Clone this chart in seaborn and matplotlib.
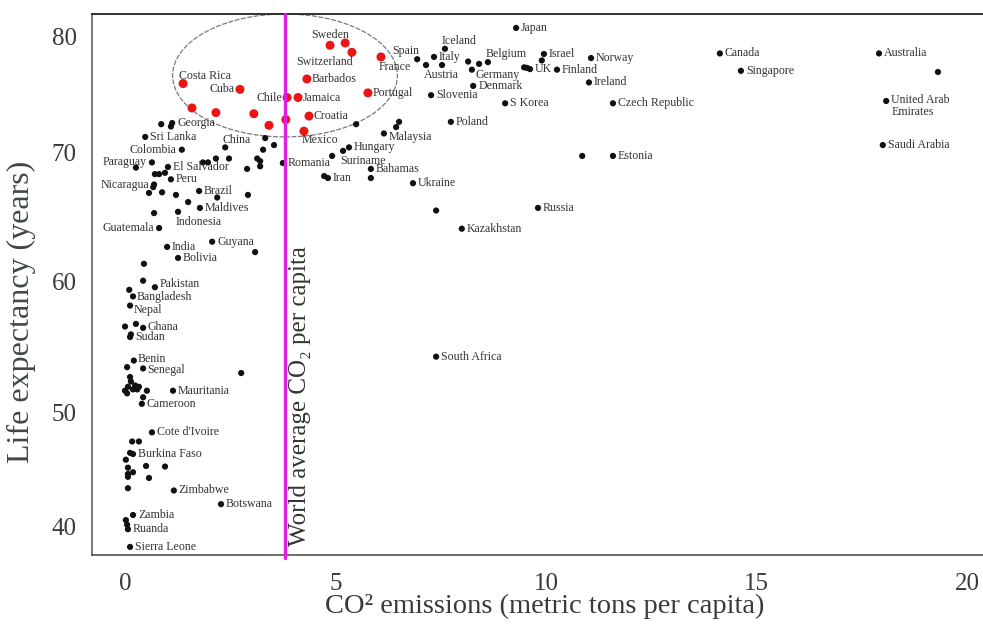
import numpy as np
import pandas as pd
import matplotlib
matplotlib.use("Agg")
import matplotlib.pyplot as plt
from matplotlib.patches import Ellipse
import seaborn as sns

# ---------------- data ----------------
red_countries = ["Costa Rica", "Cuba", "", "", "", "", "", "Chile", "Jamaica", "Barbados",
                 "Croatia", "Mexico", "Sweden", "", "Switzerland", "France", "Portugal"]
red_co2 = [1.38, 2.73, 1.59, 2.16, 3.06, 3.42, 3.82, 3.85, 4.11, 4.32,
           4.37, 4.25, 4.87, 5.23, 5.39, 6.08, 5.77]
red_life = [75.9, 75.4, 73.8, 73.4, 73.3, 72.3, 72.8, 74.7, 74.7, 76.3,
            73.1, 71.8, 79.2, 79.4, 78.6, 78.2, 75.1]

black_countries = [
    "Georgia", "", "", "Sri Lanka", "Colombia", "China", "", "", "", "Paraguay",
    "", "", "", "", "", "", "", "", "El Salvador", "",
    "", "", "", "Peru", "Nicaragua", "", "", "", "", "Brazil",
    "", "", "", "Maldives", "", "Indonesia", "Romania", "Guatemala", "India", "Guyana",
    "", "Bolivia", "", "", "Pakistan", "", "Bangladesh", "Nepal", "", "",
    "Ghana", "Sudan", "", "Benin", "", "Senegal", "", "", "", "",
    "", "", "", "", "", "", "", "Mauritania", "", "Cameroon",
    "Cote d'Ivoire", "", "", "Burkina Faso", "", "", "", "", "", "",
    "", "", "", "", "Zimbabwe", "Botswana", "Zambia", "", "", "Ruanda",
    "Sierra Leone", "Spain", "Italy", "Iceland", "Austria", "", "", "", "Belgium", "Germany",
    "Denmark", "", "", "UK", "Israel", "", "Finland", "Norway", "Ireland", "Japan",
    "Slovenia", "S Korea", "Czech Republic", "Poland", "", "", "", "Malaysia", "Hungary", "",
    "Suriname", "Bahamas", "", "", "Iran", "Ukraine", "", "Russia", "", "Estonia",
    "Kazakhstan", "South Africa", "Canada", "Singapore", "Australia", "", "United Arab\nEmirates", "Saudi Arabia",
]
black_co2 = [
    1.12, 0.86, 1.09, 0.48, 1.35, 2.38, 3.33, 3.54, 3.28, 0.64,
    1.85, 1.97, 2.16, 2.47, 3.14, 3.21, 3.21, 2.90, 1.02, 0.26,
    0.71, 0.81, 0.95, 1.09, 0.69, 0.67, 0.57, 0.88, 1.21, 1.76,
    2.19, 2.92, 1.50, 1.78, 0.69, 1.26, 3.75, 0.81, 1.00, 2.07,
    3.09, 1.26, 0.45, 0.43, 0.71, 0.10, 0.19, 0.12, 0.00, 0.26,
    0.43, 0.14, 0.12, 0.21, 0.05, 0.43, 2.76, 0.12, 0.14, 0.07,
    0.24, 0.33, 0.00, 0.05, 0.19, 0.29, 0.52, 1.14, 0.43, 0.40,
    0.64, 0.17, 0.33, 0.19, 0.12, 0.02, 0.07, 0.19, 0.07, 0.07,
    0.50, 0.95, 0.57, 0.07, 1.16, 2.28, 0.19, 0.02, 0.05, 0.07,
    0.12, 6.94, 7.34, 7.60, 7.15, 7.53, 8.15, 8.41, 8.62, 8.24,
    8.27, 9.48, 9.55, 9.62, 9.95, 9.90, 10.26, 11.07, 11.02, 9.29,
    7.27, 9.03, 11.59, 7.74, 5.49, 6.51, 6.44, 6.15, 5.32, 5.18,
    4.92, 5.84, 5.84, 4.73, 4.82, 6.84, 7.39, 9.81, 10.86, 11.59,
    8.00, 7.39, 14.13, 14.63, 17.91, 19.31, 18.08, 18.00,
]
black_life = [
    72.5, 72.4, 72.2, 71.3, 70.2, 70.4, 71.2, 70.6, 70.2, 69.2,
    69.2, 69.2, 69.5, 69.5, 69.5, 69.3, 68.9, 68.7, 68.85, 68.8,
    68.3, 68.3, 68.4, 67.9, 67.5, 67.3, 66.85, 66.9, 66.7, 67.0,
    66.5, 66.7, 66.15, 65.7, 65.3, 65.4, 69.15, 64.15, 62.7, 63.1,
    62.3, 61.85, 61.4, 60.1, 59.6, 59.4, 58.9, 58.2, 56.6, 56.8,
    56.5, 56.0, 55.8, 54.0, 53.5, 53.4, 53.05, 52.75, 52.4, 52.0,
    52.1, 52.0, 51.7, 51.5, 51.8, 51.8, 51.7, 51.7, 51.2, 50.7,
    48.3, 47.5, 47.5, 46.4, 46.5, 45.9, 45.2, 44.8, 44.65, 44.4,
    45.35, 45.3, 44.3, 43.4, 43.2, 42.0, 41.05, 40.6, 40.2, 39.8,
    38.25, 78.0, 78.2, 78.9, 77.5, 77.5, 77.8, 77.6, 77.75, 77.1,
    75.7, 77.3, 77.25, 77.15, 78.45, 77.9, 77.1, 78.1, 76.0, 80.7,
    74.9, 74.2, 74.2, 72.6, 72.4, 72.6, 72.15, 71.6, 70.4, 70.1,
    69.7, 68.7, 68.0, 68.15, 68.0, 67.6, 65.5, 65.7, 69.7, 69.7,
    64.1, 54.3, 78.5, 77.0, 78.5, 76.9, 74.4, 70.6,
]

world_avg_co2 = 3.8
x_ticks = [0, 5, 10, 15, 20]
y_ticks = [40, 50, 60, 70, 80]
x_tick_labels = ["0", "5", "10", "15", "20"]
y_tick_labels = ["40", "50", "60", "70", "80"]

# ---------------- style ----------------
sns.set_style("white")
serif = ["Liberation Serif", "DejaVu Serif"]
plt.rcParams["font.family"] = serif
text_col = "#333333"

# label offsets (pixels) for non-default placements
label_place = {
    "Costa Rica": (-4, 8, "left"), "Cuba": (-5, 0, "right"), "Chile": (-5, 0, "right"),
    "Mexico": (-2, -9, "left"), "Sweden": (0, 10, "center"), "Switzerland": (1, -10, "right"),
    "France": (-2, -10, "left"), "China": (-3, 7, "left"), "Indonesia": (-2, -10, "left"),
    "Suriname": (8, -5, "left"), "Malaysia": (5, -4, "left"), "Spain": (2, 8, "right"),
    "Iceland": (-3, 8, "left"), "Austria": (-2, -10, "left"), "Belgium": (-2, 8, "left"),
    "Germany": (4, -5, "left"), "Colombia": (-5, 0, "right"), "Paraguay": (-5, 0, "right"),
    "Nicaragua": (-5, 0, "right"), "Guatemala": (-5, 0, "right"),
    "Pakistan": (5, 3, "left"), "Bangladesh": (4, -1, "left"), "Nepal": (4, -4, "left"),
    "Ghana": (4, 1, "left"), "Sudan": (4, -3, "left"),
    "Benin": (4, 2, "left"), "Senegal": (4, -2, "left"),
}

fig = plt.figure(figsize=(9.83, 6.26), dpi=100)
ax = fig.add_axes([92 / 983, 1 - 555 / 626, 1 - 92 / 983, (555 - 14) / 626])

# piecewise-linear y scale following the printed tick spacing
yk = [0, 40, 50, 60, 70, 80, 120]
pk = [-456, 0, 114, 245, 375, 491, 955]
fwd = lambda v: np.interp(v, yk, pk)
inv = lambda p: np.interp(p, pk, yk)
ax.set_yscale("function", functions=(fwd, inv))

red_df = pd.DataFrame({"country": red_countries, "co2": red_co2, "life": red_life})
black_df = pd.DataFrame({"country": black_countries, "co2": black_co2, "life": black_life})

sns.scatterplot(data=black_df, x="co2", y="life", ax=ax, color="#111111", s=20,
                edgecolor="none", zorder=3)
sns.scatterplot(data=red_df, x="co2", y="life", ax=ax, color="#ec1515", s=42,
                edgecolor="none", zorder=4)

ax.set_xlim(-0.784, 20.38)
ax.set_ylim(37.54, 81.9)

ell = Ellipse((3.8, 76.6), 5.34, 10.6, fill=False, edgecolor="#7a7a7a", lw=0.9,
              linestyle=(0, (4, 1.2)), zorder=2)
ax.add_patch(ell)

ax.axvline(world_avg_co2, ymin=-0.006, ymax=1, color="#e01ee0", lw=2.4, zorder=5,
           clip_on=False)

for df in (red_df, black_df):
    for _, r in df.iterrows():
        if not r["country"]:
            continue
        dx, dy, ha = label_place.get(r["country"], (5, 0, "left"))
        va = "center"
        extra = {}
        if "\n" in r["country"]:
            va = "top"
            dy = 7
            extra = {"linespacing": 0.95}
        ax.annotate(r["country"], (r["co2"], r["life"]), xytext=(dx, dy),
                    textcoords="offset pixels", ha=ha, va=va, fontsize=8.6,
                    color=text_col, zorder=6, **extra)

ax.set_xticks(x_ticks)
ax.set_xticklabels(x_tick_labels)
ax.set_yticks(y_ticks)
ax.set_yticklabels(y_tick_labels)
ax.tick_params(axis="both", direction="out", length=6, width=1, color="#555555",
               labelsize=18, labelcolor="#3a3a3a")
ax.tick_params(axis="x", pad=7)
ax.tick_params(axis="y", pad=5)
ax.set_xlabel("")
ax.set_ylabel("")

ax.spines["right"].set_visible(False)
ax.spines["top"].set_color("#222222")
ax.spines["top"].set_linewidth(1.3)
ax.spines["left"].set_color("#555555")
ax.spines["bottom"].set_color("#444444")
ax.spines["left"].set_linewidth(1.1)
ax.spines["bottom"].set_linewidth(1.1)

fig.text(21 / 983, 1 - 312 / 626, "Life expectancy (years)", rotation=90,
         ha="center", va="center", fontsize=23, color="#3e4a40")
fig.text(545 / 983, 1 - 606 / 626, "CO\u00b2 emissions (metric tons per capita)",
         ha="center", va="center", fontsize=20.5, color="#3a3a3a")
fig.text(300 / 983, 1 - 546 / 626, "World average CO\u2082 per capita", rotation=90,
         ha="center", va="bottom", fontsize=18, color="#333333")

fig.savefig("out.png", dpi=100, facecolor="white")
